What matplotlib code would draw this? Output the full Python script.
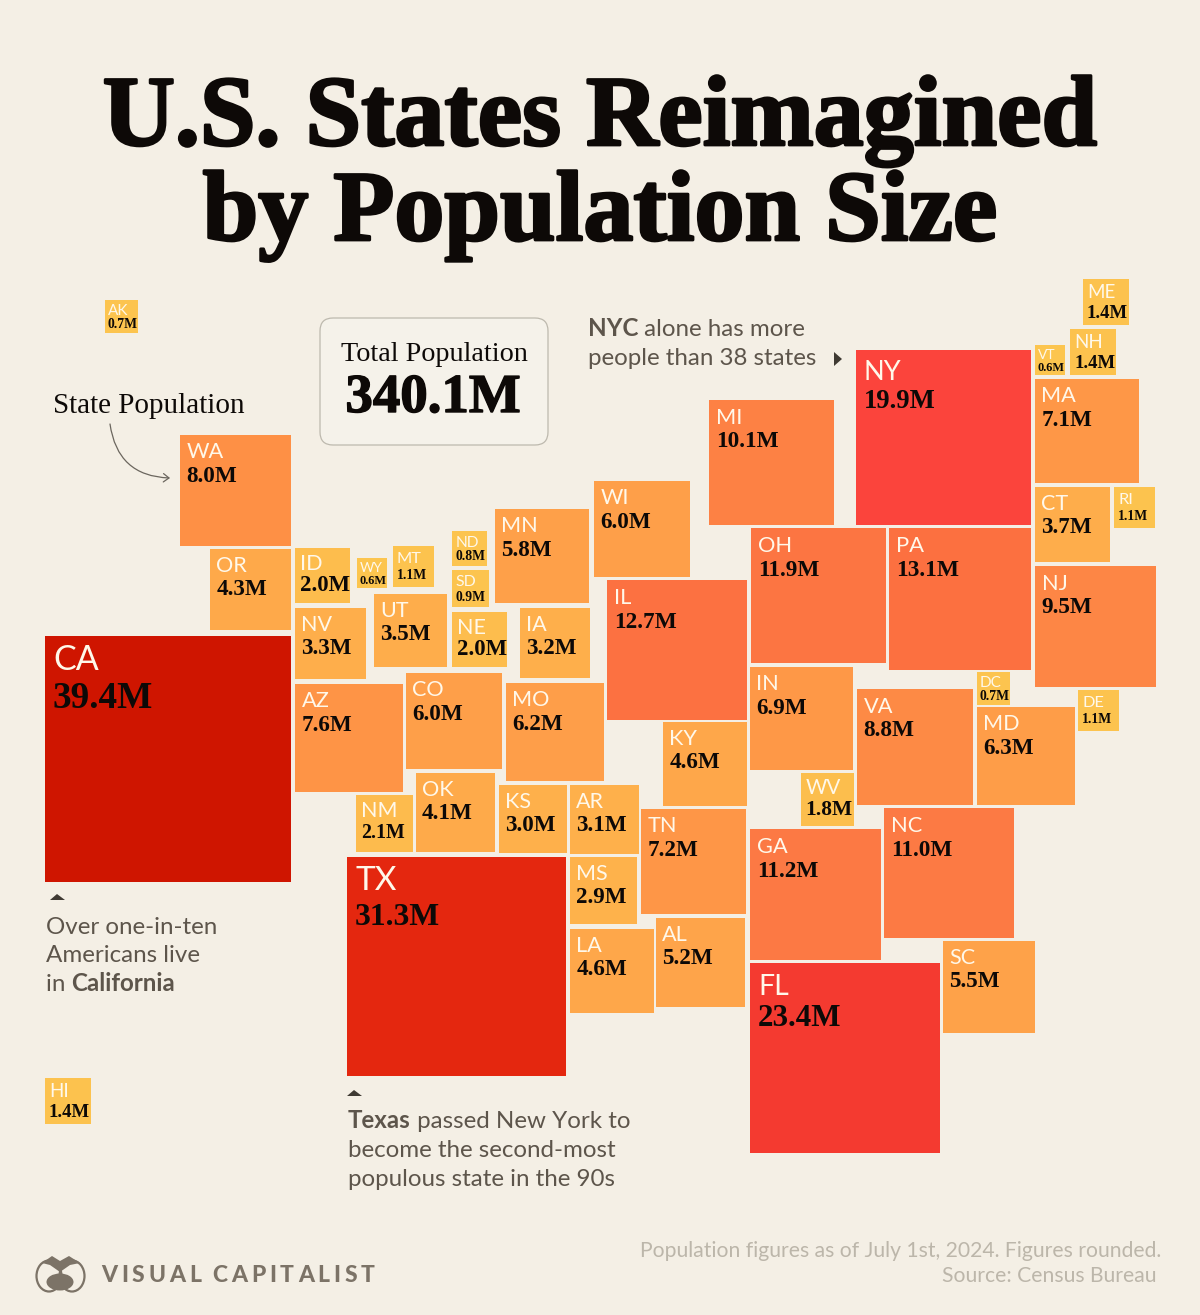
import numpy as np
import matplotlib
matplotlib.use("Agg")
import matplotlib.pyplot as plt
import matplotlib.patheffects as pe
from matplotlib.colors import LinearSegmentedColormap
from matplotlib.patches import Rectangle, FancyBboxPatch, FancyArrowPatch, Polygon, Ellipse

states = ["CA", "TX", "FL", "NY", "PA", "IL", "OH", "GA", "NC", "MI", "NJ", "VA", "WA", "AZ", "TN", "MA", "IN",
          "MD", "MO", "CO", "WI", "MN", "SC", "AL", "KY", "LA", "OR", "OK", "CT", "UT", "NV", "IA", "AR", "KS",
          "MS", "NM", "ID", "NE", "WV", "ME", "NH", "HI", "RI", "DE", "MT", "ND", "SD", "AK", "DC", "WY", "VT"]
population = [39.4, 31.3, 23.4, 19.9, 13.1, 12.7, 11.9, 11.2, 11.0, 10.1, 9.5, 8.8, 8.0, 7.6, 7.2, 7.1, 6.9,
              6.3, 6.2, 6.0, 6.0, 5.8, 5.5, 5.2, 4.6, 4.6, 4.3, 4.1, 3.7, 3.5, 3.3, 3.2, 3.1, 3.0,
              2.9, 2.1, 2.0, 2.0, 1.8, 1.4, 1.4, 1.4, 1.1, 1.1, 1.1, 0.8, 0.9, 0.7, 0.7, 0.6, 0.6]

# top left corner of each tile, pixels of the reference
tile_left = [45, 347, 750, 856, 889, 607, 751, 750, 884, 709, 1035, 857, 180, 295, 641, 1035, 750,
             977, 506, 406, 594, 495, 943, 656, 663, 570, 210, 416, 1035, 374, 295, 520, 570, 499,
             570, 356, 295, 452, 801, 1083, 1070, 45, 1114, 1078, 393, 452, 452, 105, 977, 357, 1035]
tile_top = [636, 857, 963, 350, 528, 580, 528, 829, 808, 400, 566, 689, 435, 684, 809, 379, 667,
            707, 683, 673, 481, 509, 941, 918, 722, 929, 549, 773, 487, 594, 608, 608, 785, 785,
            857, 795, 548, 612, 773, 279, 329, 1078, 487, 690, 546, 531, 570, 300, 672, 558, 345]

SIDE_PER_ROOT = 39.2
BG = "#f4efe5"
INK = "#0d0907"
NOTE = "#5d554b"

tile_cmap = LinearSegmentedColormap.from_list("pop", [
    (0.0, "#fcc650"), (1.4 / 40, "#fcc24e"), (3.0 / 40, "#feb04b"), (6.0 / 40, "#fe9f49"), (8.0 / 40, "#fe9045"),
    (11.0 / 40, "#fc7a44"), (13.0 / 40, "#fc7040"), (19.9 / 40, "#fb443c"), (23.4 / 40, "#f43a30"),
    (31.3 / 40, "#e4270f"), (39.4 / 40, "#cf1500"), (1.0, "#cf1500")])

# label sizes and offsets follow the tile population
pop_steps = [0.6, 0.7, 1.1, 1.4, 2.0, 3.0, 13.1, 19.9, 23.4, 31.3, 39.4]
value_pt = [8.8, 9.8, 9.8, 13.5, 16.4, 16.6, 16.8, 19.2, 22.3, 22.8, 26.8]
code_pt = [10, 11, 11.8, 13.5, 15.5, 15.5, 15.8, 19.5, 20.5, 24, 24.5]
code_base = [14, 15, 17, 19, 22, 23, 24, 30, 32, 33, 34]
value_base = [26, 28, 33, 39, 43, 46, 48, 58, 63, 68, 72]
inset = [3, 3, 4, 4, 5, 6, 7, 8, 8, 8, 8]
value_override = {"NM": 14.3}

SERIF = "Liberation Serif"
SANS = "Lato"

fig = plt.figure(figsize=(12, 13.15), dpi=100, facecolor=BG)
ax = fig.add_axes([0, 0, 1, 1])
ax.set_xlim(0, 1200)
ax.set_ylim(1315, 0)
ax.axis("off")


def heavy(width):
    return [pe.withStroke(linewidth=width, foreground=INK)]


def mixed(x, y, parts, size, color=NOTE):
    # bold and regular runs on one baseline
    r = fig.canvas.get_renderer()
    for s, weight in parts:
        t = ax.text(x, y, s, family=SANS, fontsize=size, color=color, fontweight=weight, va="baseline")
        x += t.get_window_extent(r).width


def tracked(x, y, s, gap, size, color):
    # matplotlib has no letter spacing, so place the letters one by one
    r = fig.canvas.get_renderer()
    for ch in s:
        if ch == " ":
            x += 7
            continue
        t = ax.text(x, y, ch, family=SANS, fontweight="black", fontsize=size, color=color, va="baseline")
        x += t.get_window_extent(r).width + gap


for name, pop, x, y in zip(states, population, tile_left, tile_top):
    side = SIDE_PER_ROOT * np.sqrt(pop)
    ax.add_patch(Rectangle((x, y), side, side, facecolor=tile_cmap(pop / 40), edgecolor="none"))
    dx = np.interp(pop, pop_steps, inset)
    ax.text(x + dx, y + np.interp(pop, pop_steps, code_base), name, family=SANS, color="#fff8ea",
            fontsize=np.interp(pop, pop_steps, code_pt), va="baseline")
    ax.text(x + dx, y + np.interp(pop, pop_steps, value_base), f"{pop:.1f}M", family=SERIF, fontweight="bold",
            color=INK, fontsize=value_override.get(name, np.interp(pop, pop_steps, value_pt)), va="baseline")

ax.text(600, 145, "U.S. States Reimagined", family=SERIF, fontweight="bold", fontsize=72, color=INK,
        ha="center", va="baseline", path_effects=heavy(2))
ax.text(600, 240, "by Population Size", family=SERIF, fontweight="bold", fontsize=72, color=INK,
        ha="center", va="baseline", path_effects=heavy(2))

# total box
ax.add_patch(FancyBboxPatch((333, 331), 202, 101, boxstyle="round,pad=13,rounding_size=13",
                            facecolor="#f5f2ea", edgecolor="#bdb9ae", linewidth=0.9))
ax.text(434, 361, "Total Population", family=SERIF, fontsize=20.3, color=INK, ha="center", va="baseline")
ax.text(433, 412, "340.1M", family=SERIF, fontweight="bold", fontsize=39.5, color=INK, ha="center", va="baseline",
        path_effects=heavy(1))

# state population key
ax.text(53, 413, "State Population", family=SERIF, fontsize=21, color=INK, va="baseline")
ax.add_patch(FancyArrowPatch((110, 424), (170, 478), connectionstyle="arc3,rad=0.42",
                             arrowstyle="->,head_length=4,head_width=3",
                             color="#6b665e", linewidth=0.9, shrinkA=0, shrinkB=0))

# notes
NOTE_PT = 17.4
mixed(588, 336, [("NYC", "bold"), (" alone has more", "normal")], NOTE_PT)
mixed(588, 365, [("people than 38 states", "normal")], NOTE_PT)
ax.add_patch(Polygon([(834, 352), (842, 359), (834, 366)], facecolor="#3f3a33"))

ax.add_patch(Polygon([(50, 900), (57, 894), (65, 900)], facecolor="#3f3a33"))
mixed(46, 934, [("Over one-in-ten", "normal")], NOTE_PT)
mixed(46, 962, [("Americans live", "normal")], NOTE_PT)
mixed(46, 991, [("in ", "normal"), ("California", "bold")], NOTE_PT)

ax.add_patch(Polygon([(347, 1096), (354, 1090), (362, 1096)], facecolor="#3f3a33"))
mixed(348, 1128, [("Texas", "bold"), (" passed New York to", "normal")], NOTE_PT)
mixed(348, 1157, [("become the second-most", "normal")], NOTE_PT)
mixed(348, 1186, [("populous state in the 90s", "normal")], NOTE_PT)

# footer
ax.text(1161, 1257, "Population figures as of July 1st, 2024. Figures rounded.", family=SANS, fontsize=15.2,
        color="#bcb6aa", ha="right", va="baseline")
ax.text(1157, 1282, "Source: Census Bureau", family=SANS, fontsize=15.2, color="#bcb6aa", ha="right", va="baseline")

# logo
LOGO = "#7c7367"
ax.add_patch(Ellipse((49, 1276), 25, 31, facecolor="none", edgecolor=LOGO, linewidth=1.6))
ax.add_patch(Ellipse((72, 1276), 25, 31, facecolor="none", edgecolor=LOGO, linewidth=1.6))
ax.add_patch(Polygon([(42, 1263), (52, 1256), (60, 1261), (69, 1256), (80, 1263), (70, 1265), (60, 1272), (50, 1265)],
                     facecolor=LOGO))
ax.add_patch(Ellipse((60, 1282), 27, 17, facecolor=LOGO))
tracked(101, 1282, "VISUAL CAPITALIST", 3.9, 16.5, LOGO)

fig.savefig("out.png", dpi=100, facecolor=BG)
